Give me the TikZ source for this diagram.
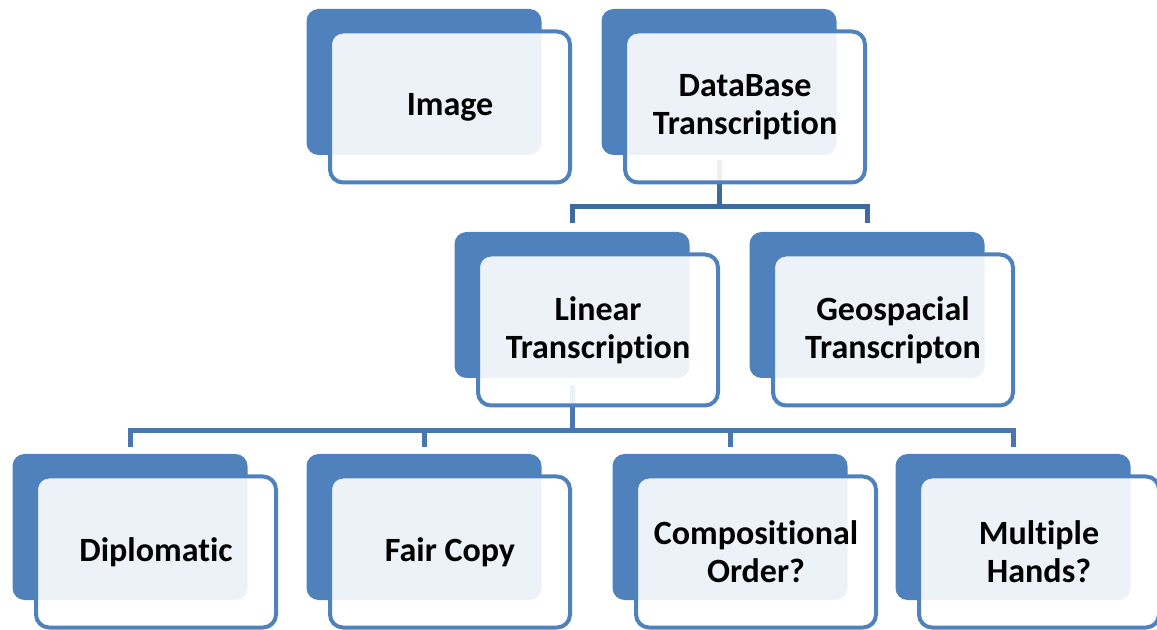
\documentclass[tikz,border=0pt]{standalone}
\usepackage{fontspec}
\setmainfont{Carlito}[Ligatures={NoCommon,NoRare,NoDiscretionary},Contextuals=NoAlternate]
\definecolor{accent}{HTML}{4F81BD}
\definecolor{connA}{HTML}{3E6A9E}
\definecolor{connB}{HTML}{4A77B0}
\begin{document}
\begin{tikzpicture}[x=0.5pt,y=-0.5pt,
  backbox/.style={fill=accent, draw=none, rounded corners=6pt, minimum width=117.5pt, minimum height=73pt, inner sep=0pt},
  frontbox/.style={draw=accent, line width=2pt, fill=white, fill opacity=0.9, text opacity=1, rounded corners=6.5pt, minimum width=120pt, minimum height=75.5pt, inner sep=0pt, align=center, text=black, font=\fontsize{17}{19}\selectfont\bfseries},
  connone/.style={draw=connA, line width=2.5pt, shorten <=2.5pt, shorten >=4.5pt},
  conntwo/.style={draw=connB, line width=2.5pt, shorten <=3.5pt, shorten >=3.5pt}]
\useasboundingbox (0,0) rectangle (1157,630);
% back boxes
\node[backbox] (imgB) at (424,82) {};
\node[backbox] (dbB) at (719,82) {};
\node[backbox] (linB) at (572,305) {};
\node[backbox] (geoB) at (867,305) {};
\node[backbox] (dipB) at (130,527) {};
\node[backbox] (fairB) at (424,527) {};
\node[backbox] (compB) at (730,527) {};
\node[backbox] (multB) at (1013,527) {};
% connectors
\draw[connone] (dbB.south) -- ++(0,51) -| (linB.north);
\draw[connone] (dbB.south) -- ++(0,51) -| (geoB.north);
\draw[conntwo] (linB.south) -- ++(0,52) -| (dipB.north);
\draw[conntwo] (linB.south) -- ++(0,52) -| (fairB.north);
\draw[conntwo] (linB.south) -- ++(0,52) -| (compB.north);
\draw[conntwo] (linB.south) -- ++(0,52) -| (multB.north);
% front boxes
\node[frontbox] (img) at (450,107) {Image};
\node[frontbox] (db) at (745,107) {DataBase\\Transcription};
\node[frontbox] (lin) at (598,330) {Linear\\Transcription};
\node[frontbox] (geo) at (893,330) {Geospacial\\Transcripton};
\node[frontbox] (dip) at (156,552) {Diplomatic};
\node[frontbox] (fair) at (450,552) {Fair Copy};
\node[frontbox] (comp) at (756,552) {Compositional\\Order?};
\node[frontbox] (mult) at (1039,552) {Multiple\\Hands?};
\end{tikzpicture}
\end{document}
